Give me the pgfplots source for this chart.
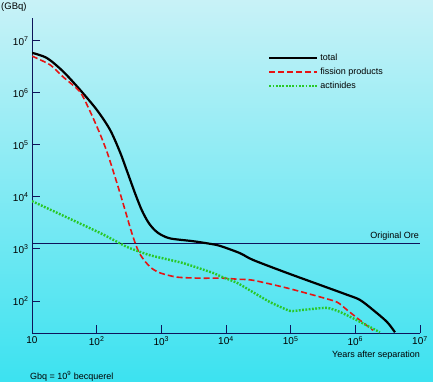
\documentclass[border=0pt]{standalone}
\usepackage{pgfplots}
\pgfplotsset{compat=1.18}
\usepackage{fontspec}
\setmainfont{Liberation Sans}
\definecolor{bgtop}{RGB}{200,242,247}
\definecolor{bgbot}{RGB}{60,226,240}
\definecolor{axnavy}{RGB}{15,20,90}
\definecolor{fpred}{RGB}{230,20,20}
\definecolor{acgreen}{RGB}{40,200,40}
\begin{document}
\begin{tikzpicture}
\shade[top color=bgtop, bottom color=bgbot] (-32pt,-48pt) rectangle (401pt,333pt);
\path[use as bounding box] (-32pt,-48pt) rectangle (401pt,333pt);
\begin{axis}[
  at={(0pt,0pt)}, anchor=south west,
  scale only axis, width=388pt, height=315pt,
  xmode=log, ymode=log,
  xmin=10, xmax=1e7, ymin=24.3, ymax=2.75e7,
  axis lines=left,
  axis line style={axnavy, line width=1pt, -},
  xtick={10,100,1000,10000,100000,1000000,10000000},
  xticklabels={10,10\textsuperscript{2},10\textsuperscript{3},10\textsuperscript{4},10\textsuperscript{5},10\textsuperscript{6},10\textsuperscript{7}},
  ytick={100,1000,10000,100000,1000000,10000000},
  yticklabels={10\textsuperscript{2},10\textsuperscript{3},10\textsuperscript{4},10\textsuperscript{5},10\textsuperscript{6},10\textsuperscript{7}},
  xminorticks=false, yminorticks=false,
  tick align=inside, major tick length=8pt,
  tick style={axnavy, line width=1pt},
  tick label style={font=\fontsize{10}{12}\selectfont, text=black},
  legend style={at={(0.60,0.90)}, anchor=north west, draw=none, fill=none,
    font=\fontsize{9}{11}\selectfont, row sep=2pt},
  legend cell align=left,
  legend image code/.code={\draw[#1] (0pt,0pt) -- (48pt,0pt);},
  clip=true,
]
\addplot[axnavy, line width=0.9pt, forget plot] coordinates {(10,1300) (1e7,1300)};
\addplot[black, line width=2.2pt, smooth, tension=0.5] coordinates {
(10,5.89e6) (17,4.68e6) (30.1,2.6e6) (55.2,1.15e6) (101,4.68e5) (161,1.95e5)
(230,72440) (294,31620) (398,11220) (501,5495) (631,3236) (794,2291) (1000,1862)
(1413,1585) (3090,1413) (5649,1259) (8072,1148) (16440,832) (26120,617) (87700,347)
(283800,204) (743000,132) (1.18e6,105) (1.875e6,67.6) (3.08e6,39.8) (4.10e6,25.1)};
\addlegendentry{total}
\addplot[fpred, line width=1.6pt, dash pattern=on 6pt off 3pt, smooth, tension=0.4] coordinates {
(10,5.1e6) (19.0,3.47e6) (30.1,2.04e6) (55.2,1.05e6) (79.4,4.37e5) (112,1.66e5)
(145,72440) (182,30200) (229,12020) (282,5012) (339,2291) (398,1259) (457,832)
(562,575) (708,427) (955,347) (1738,288) (3963,275) (8974,275) (14790,263)
(26120,251) (87700,178) (283800,120) (520000,95.5) (743000,67.6) (1.18e6,42.7) (1.875e6,27.5)};
\addlegendentry{fission products}
\addplot[acgreen, line width=2.4pt, dash pattern=on 1.8pt off 1.5pt, smooth, tension=0.3] coordinates {
(10,8318) (112,2042) (294,1096) (668,759) (2163,537) (6295,347) (8072,302)
(14790,224) (26120,148) (47860,95.5) (97500,64.6) (154900,67.6) (363900,74.1)
(579400,61.7) (1.06e6,42.7) (2.40e6,25.1)};
\addlegendentry{actinides}
\node[anchor=south east, font=\fontsize{9}{11}\selectfont, inner sep=1pt] at (axis cs:1e7,1300) [yshift=2pt] {Original Ore};
\end{axis}
\node[anchor=north east, font=\fontsize{9}{11}\selectfont, inner sep=0pt] at (388pt,-18pt) {Years after separation};
\node[anchor=west, font=\fontsize{9}{11}\selectfont, inner sep=0pt] at (-2pt,-43pt) {Gbq = 10\textsuperscript{9} becquerel};
\node[anchor=west, font=\fontsize{9.5}{11}\selectfont, inner sep=0pt] at (-31pt,326pt) {(GBq)};
\end{tikzpicture}
\end{document}
